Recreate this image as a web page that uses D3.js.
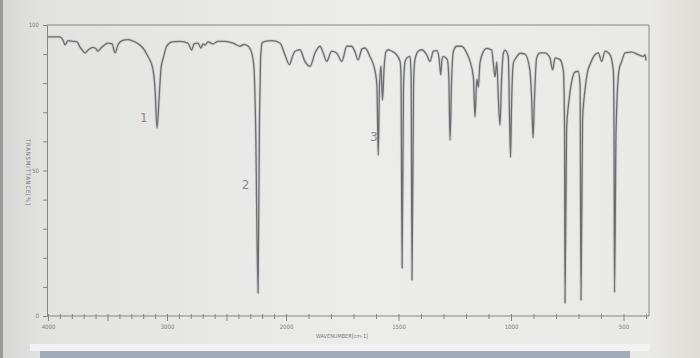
<!DOCTYPE html>
<html>
<head>
<meta charset="utf-8">
<script src="https://cdn.jsdelivr.net/npm/d3@7"></script>
<style>
  body { margin: 0; background: #e7e8e5; }
  svg { display: block; }
</style>
</head>
<body>
<div id="irChart"></div>
<script>
// wavenumber (cm-1) and transmittance (%)
const wavenumbers = [4000, 3899, 3874, 3857, 3832, 3790, 3756, 3731, 3714, 3689, 3664, 3647, 3622, 3597, 3580, 3555, 3538, 3496, 3462, 3437, 3412, 3378, 3328, 3286, 3252, 3202, 3160, 3120, 3101, 3084, 3065, 3050, 3031, 3003, 2958, 2891, 2824, 2792, 2773, 2740, 2714, 2698, 2681, 2656, 2613, 2571, 2513, 2445, 2387, 2353, 2320, 2288, 2269, 2256, 2235, 2223, 2214, 2210, 2202, 2177, 2118, 2051, 2009,
  1985, 1969, 1960, 1938, 1916, 1893, 1871, 1849, 1836, 1819, 1797, 1775, 1752, 1730, 1708, 1693, 1680, 1662, 1649, 1627, 1604, 1596, 1590, 1585, 1578, 1571, 1564, 1556, 1546, 1530, 1516, 1493, 1489, 1484, 1478, 1471, 1463, 1449, 1444, 1440, 1433, 1427, 1412, 1397, 1375, 1360, 1345, 1328, 1320, 1312, 1307, 1301, 1283, 1276, 1271, 1264, 1256, 1241, 1219, 1197, 1182, 1167, 1160, 1152, 1145, 1138, 1123, 1108, 1086, 1071, 1063, 1056, 1049, 1042, 1034, 1027, 1012, 1007, 1002, 998, 990, 975, 960, 938, 916, 908, 902, 896, 886, 871, 849, 827, 815, 804, 782, 767, 762, 760, 753, 742, 733, 716, 701, 693, 689, 682, 671, 658, 649, 627, 612, 597, 582, 560, 545, 542, 540, 533, 520, 508, 493, 463, 434, 412, 404, 400];
const transmittance = [95.9, 95.9, 94.8, 93.2, 94.6, 94.4, 94.2, 92.4, 91.5, 90.4, 91.4, 91.9, 92.3, 91.8, 91.0, 92.1, 92.7, 93.8, 93.5, 90.4, 93.2, 94.6, 95.0, 94.5, 93.8, 92.1, 89.2, 85.2, 78.4, 64.6, 76.0, 85.2, 88.7, 92.7, 94.2, 94.4, 93.8, 91.4, 93.5, 93.8, 92.1, 93.5, 93.1, 94.2, 93.5, 94.4, 94.4, 93.8, 92.7, 93.3, 92.8, 90.4, 85.2, 67.4, 7.9, 67.4, 88.0, 90.7, 93.8, 94.4, 94.6, 93.8, 89.8,
  86.4, 89.7, 91.0, 91.5, 87.5, 85.8, 90.4, 92.7, 90.7, 87.5, 91.0, 90.4, 87.5, 92.7, 92.7, 90.7, 88.0, 91.8, 92.1, 89.2, 84.1, 79.4, 55.3, 77.7, 85.9, 74.2, 85.2, 90.7, 91.5, 91.0, 90.4, 87.5, 82.8, 16.5, 77.7, 87.3, 88.7, 89.2, 82.8, 12.4, 79.4, 88.0, 91.0, 91.5, 89.8, 87.5, 91.0, 91.2, 88.7, 82.9, 88.0, 89.2, 88.1, 81.1, 60.5, 81.1, 91.0, 92.7, 92.7, 90.4, 87.5, 81.8, 68.4, 81.4, 78.7, 86.9, 90.8, 92.0, 91.4, 82.2, 87.3, 74.2, 65.6, 81.1, 90.3, 91.4, 89.1, 70.8, 54.6, 70.8, 86.8, 89.0, 90.3, 90.0, 84.5, 74.2, 61.2, 74.2, 88.7, 90.4, 90.4, 88.7, 84.6, 88.7, 88.1, 84.1, 63.9, 4.5, 63.9, 74.2, 79.4, 83.8, 84.1, 79.4, 5.5, 67.4, 77.7, 84.5, 86.4, 89.8, 90.4, 87.5, 91.0, 89.8, 84.1, 63.9, 8.2, 63.9, 84.5, 87.5, 90.4, 90.7, 89.8, 89.2, 89.8, 87.8];

// axis ticks and labels
const xTicks = d3.range(4000, 399, -100);
const xLabels = [4000, 3000, 2000, 1500, 1000, 500];
const yTicks = d3.range(0, 101, 10);
const yLabels = [0, 50, 100];

// numbered peaks marked on the scan
const peakLabels = ["1", "2", "3"];
const peakWavenumbers = [3195, 2340, 1610];
const peakTransmittance = [66.5, 43.5, 60];

function renderIrSpectrum () {
    const wSvg = 700;
    const hSvg = 358;
    const left = 47;
    const right = 649;
    const top = 25;
    const bottom = 316;
    const lineColor = "#6e6e6e";
    const axisColor = "#858585";
    const textColor = "#7a7a7a";

    const xScale = d3.scaleLinear([4000, 2000, 400], [48, 286, 646]);
    const yScale = d3.scaleLinear([0, 100], [bottom, top]);

    let svg = d3.select("#irChart")
        .append("svg")
        .attr("width", wSvg)
        .attr("height", hSvg);

    // photo background with a little vignetting
    let defs = svg.append("defs");
    let bg = defs.append("linearGradient").attr("id", "bgGrad");
    bg.append("stop").attr("offset", "0%").attr("stop-color", "#d6d7d5");
    bg.append("stop").attr("offset", "6%").attr("stop-color", "#e2e3e1");
    bg.append("stop").attr("offset", "50%").attr("stop-color", "#ecedeb");
    bg.append("stop").attr("offset", "93%").attr("stop-color", "#e9e9e6");
    bg.append("stop").attr("offset", "100%").attr("stop-color", "#dedcd6");

    svg.append("rect")
        .attr("width", wSvg)
        .attr("height", hSvg)
        .attr("fill", "url(#bgGrad)");

    svg.append("rect")
        .attr("x", 0).attr("y", 0)
        .attr("width", 3).attr("height", hSvg)
        .attr("fill", "#9a9a98");

    svg.append("rect")
        .attr("x", 30).attr("y", 344)
        .attr("width", 620).attr("height", 7)
        .attr("fill", "#f1f2f1");
    svg.append("rect")
        .attr("x", 40).attr("y", 351)
        .attr("width", 590).attr("height", 7)
        .attr("fill", "#a3abbb");

    // frame (top + right)
    svg.append("path")
        .attr("d", `M${left},${top}H${right}V${bottom}`)
        .attr("fill", "none")
        .attr("stroke", axisColor)
        .attr("stroke-width", 1);

    // x axis
    let xAxis = d3.axisBottom(xScale)
        .tickValues(xTicks)
        .tickSize(3)
        .tickFormat(d => xLabels.includes(d) ? d : "");
    let gx = svg.append("g")
        .attr("transform", `translate(0, ${bottom})`)
        .call(xAxis);
    gx.select(".domain").attr("d", `M${left},0H${right}`);
    gx.selectAll(".tick line")
        .attr("y1", -2)
        .attr("y2", d => d % 500 === 0 ? 5 : 3);
    gx.selectAll("text")
        .attr("y", 9)
        .attr("fill", textColor)
        .style("font-family", "DejaVu Sans Condensed, DejaVu Sans, sans-serif")
        .style("font-size", "6px");

    // y axis
    let yAxis = d3.axisLeft(yScale)
        .tickValues(yTicks)
        .tickSize(4)
        .tickFormat(d => yLabels.includes(d) ? d : "");
    let gy = svg.append("g")
        .attr("transform", `translate(${left}, 0)`)
        .call(yAxis);
    gy.selectAll("text")
        .attr("x", -8)
        .attr("fill", textColor)
        .style("font-family", "DejaVu Sans Condensed, DejaVu Sans, sans-serif")
        .style("font-size", "6px");

    svg.selectAll(".domain, .tick line")
        .attr("stroke", axisColor);

    // spectrum
    let points = wavenumbers.map((w, i) => [w, transmittance[i]]);
    let line = d3.line()
        .x(d => xScale(d[0]))
        .y(d => yScale(d[1]))
        .curve(d3.curveMonotoneX);

    svg.append("path")
        .datum(points)
        .attr("d", line)
        .attr("fill", "none")
        .attr("stroke", "#b9bcc4")
        .attr("stroke-width", 3)
        .attr("stroke-opacity", 0.5)
        .attr("stroke-linejoin", "round");

    svg.append("path")
        .datum(points)
        .attr("d", line)
        .attr("fill", "none")
        .attr("stroke", lineColor)
        .attr("stroke-width", 1.3)
        .attr("stroke-linejoin", "round");

    // peak numbers
    svg.append("g")
        .selectAll("text")
        .data(peakLabels)
        .enter()
        .append("text")
        .attr("x", (d, i) => xScale(peakWavenumbers[i]))
        .attr("y", (d, i) => yScale(peakTransmittance[i]))
        .attr("text-anchor", "middle")
        .attr("fill", "#8a8a8a")
        .style("font-family", "DejaVu Sans, sans-serif")
        .style("font-size", "12px")
        .text(d => d);

    // axis titles
    svg.append("text")
        .attr("x", 342)
        .attr("y", 338)
        .attr("text-anchor", "middle")
        .attr("fill", textColor)
        .attr("textLength", 52)
        .style("font-family", "DejaVu Sans Condensed, DejaVu Sans, sans-serif")
        .style("font-size", "5.5px")
        .text("WAVENUMBER[cm-1]");

    svg.append("text")
        .attr("transform", "translate(26, 172) rotate(90)")
        .attr("text-anchor", "middle")
        .attr("fill", textColor)
        .attr("textLength", 66)
        .style("font-family", "DejaVu Sans Condensed, DejaVu Sans, sans-serif")
        .style("font-size", "6px")
        .text("TRANSMITTANCE[%]");
}

renderIrSpectrum();
</script>
</body>
</html>
